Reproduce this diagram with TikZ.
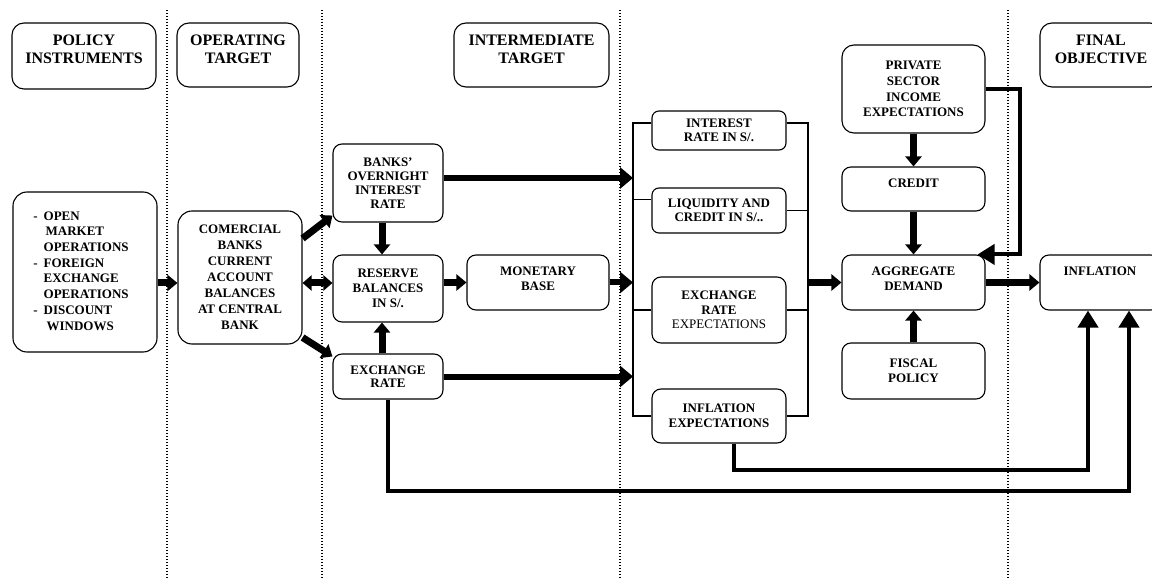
\documentclass[tikz,border=0pt]{standalone}
\usepackage{fontspec}
\setmainfont{Liberation Serif}
\usetikzlibrary{arrows.meta}
\begin{document}
\begin{tikzpicture}[x=1pt,y=-1pt,
bx/.style={draw,line width=1.1pt,rounded corners=9pt,align=center,inner sep=1pt,font=\bfseries\fontsize{13}{15}\selectfont},
lab/.style={anchor=north,yshift=-12.5pt,inner sep=0pt,align=center,font=\bfseries\fontsize{13}{15}\selectfont},
big/.style={font=\bfseries\fontsize{16}{18}\selectfont},
tp/.style={label={[lab]north:#1}},
hd/.style={bx,rounded corners=12pt,minimum height=64pt,label={[lab,big]north:#1}},
brk/.style={line width=1.1pt},
ar/.style={line width=7pt,-{Triangle[length=10pt,width=16pt]}},
dar/.style={line width=7pt,{Triangle[length=9pt,width=15pt]}-{Triangle[length=9pt,width=15pt]}},
lg/.style={line width=6pt,-{Triangle[length=13pt,width=21pt]}},
fb/.style={line width=4pt,-{Triangle[length=17pt,width=20pt]}}]
\path[use as bounding box,clip](0,0)rectangle(1152,580);
\foreach \x in {167,322,620,1008}\draw[line width=1.2pt,dash pattern=on 1.2pt off 1.8pt](\x,10)--(\x,580);
\node[hd={POLICY\\INSTRUMENTS},minimum width=144pt,minimum height=66pt](h1)at(84,56){};
\node[hd={OPERATING\\TARGET},minimum width=122pt](h2)at(238,55){};
\node[hd={INTERMEDIATE\\TARGET},minimum width=155pt](h3)at(531.5,55){};
\node[hd={FINAL\\OBJECTIVE},minimum width=122pt](h4)at(1101,55){};
\node[bx,rounded corners=14pt,minimum width=144pt,minimum height=160pt,font=\bfseries\fontsize{13}{15.7}\selectfont](pi)at(85,272){\begin{tabular}{@{}l@{\hspace{6pt}}l@{}}-&OPEN\\&\hspace{2pt}MARKET\\&OPERATIONS\\-&FOREIGN\\&EXCHANGE\\&OPERATIONS\\-&DISCOUNT\\&\hspace{3pt}WINDOWS\end{tabular}\hspace*{8pt}};
\node[bx,rounded corners=14pt,minimum width=124pt,minimum height=133pt,font=\bfseries\fontsize{13}{16}\selectfont](cb)at(240,277.5){COMERCIAL\\BANKS\\CURRENT\\ACCOUNT\\BALANCES\\AT CENTRAL\\BANK};
\node[bx,minimum width=110pt,minimum height=78pt,font=\bfseries\fontsize{13}{14}\selectfont](on)at(388,183){BANKS’\\OVERNIGHT\\INTEREST\\RATE};
\node[bx,minimum width=110pt,minimum height=67pt](rb)at(388,288.5){RESERVE\\BALANCES\\IN S/.};
\node[bx,minimum width=110pt,minimum height=45pt,font=\bfseries\fontsize{13}{13.5}\selectfont](er)at(388,376.5){EXCHANGE\\RATE};
\node[bx,tp={MONETARY\\BASE},minimum width=142pt,minimum height=55pt](mb)at(538,282.5){};
\node[bx,rounded corners=7pt,minimum width=134pt,minimum height=39pt,font=\bfseries\fontsize{13}{14}\selectfont](ir)at(719,130.5){INTEREST\\RATE IN S/.};
\node[bx,rounded corners=7pt,minimum width=134pt,minimum height=45pt,font=\bfseries\fontsize{13}{13.5}\selectfont](lq)at(719,210.5){LIQUIDITY AND\\CREDIT IN S/..};
\node[bx,minimum width=134pt,minimum height=66pt,font=\bfseries\fontsize{13}{14.5}\selectfont](ee)at(719,310){EXCHANGE\\RATE\\{\mdseries EXPECTATIONS}};
\node[bx,minimum width=134pt,minimum height=54pt](ie)at(719,416){INFLATION\\EXPECTATIONS};
\node[bx,rounded corners=12pt,minimum width=143pt,minimum height=88pt,font=\bfseries\fontsize{13}{15.7}\selectfont](ps)at(913.5,89){PRIVATE\\SECTOR\\INCOME\\EXPECTATIONS};
\node[bx,tp=CREDIT,minimum width=143pt,minimum height=44pt](cr)at(913.5,189){};
\node[bx,tp={AGGREGATE\\DEMAND},minimum width=143pt,minimum height=55pt](ad)at(913.5,282.5){};
\node[bx,minimum width=143pt,minimum height=56pt](fp)at(913.5,371){FISCAL\\POLICY};
\node[bx,tp=INFLATION,minimum width=120pt,minimum height=55pt](inf)at(1100,282.5){};
\coordinate(bl)at(633,0);\coordinate(bR)at(808,0);\coordinate(pk)at(1020,0);
\draw[brk]([yshift=7.5pt]ir.west)-|(bl|-ie.west)--(ie.west);
\draw[brk]([yshift=7.5pt]ir.east)-|(bR|-ie.east)--(ie.east);
\draw[brk]([yshift=11pt]lq.west)--+(-19,0);\draw[brk](lq.east)--+(22,0);
\draw[brk](ee.west)--+(-19,0);\draw[brk](ee.east)--+(22,0);
\draw[ar](pi.east|-0,283)--(cb.west|-0,283);
\draw[ar]([yshift=39pt]cb.east)--([yshift=7pt]on.south west);
\draw[dar](cb.east|-0,283)--(rb.west|-0,283);
\draw[ar]([yshift=-60pt]cb.east)--([yshift=-3pt]er.north west);
\draw[ar](on.south-|382,0)--(rb.north-|382,0);
\draw[ar](er.north-|382,0)--(rb.south-|382,0);
\draw[ar](rb.east|-mb.west)--(mb.west);
\draw[lg](on.east|-0,178)--(bl|-0,178);
\draw[lg](mb.east)--(bl|-mb.east);
\draw[lg](er.east)--(bl|-er.east);
\draw[ar](bR|-ad.west)--(ad.west);
\draw[ar](ps.south)--(cr.north);\draw[ar](cr.south)--(ad.north);\draw[ar](fp.north)--(ad.south);
\draw[ar](ad.east)--(inf.west);
\draw[fb](ps.east)-|(pk|-ad.north east)--([xshift=-8pt]ad.north east);
\draw[fb]([xshift=15pt]ie.south)--++(0,26)-|([xshift=-12pt]inf.south);
\draw[fb](er.south)--++(0,91)-|([xshift=29pt]inf.south);
\end{tikzpicture}
\end{document}
